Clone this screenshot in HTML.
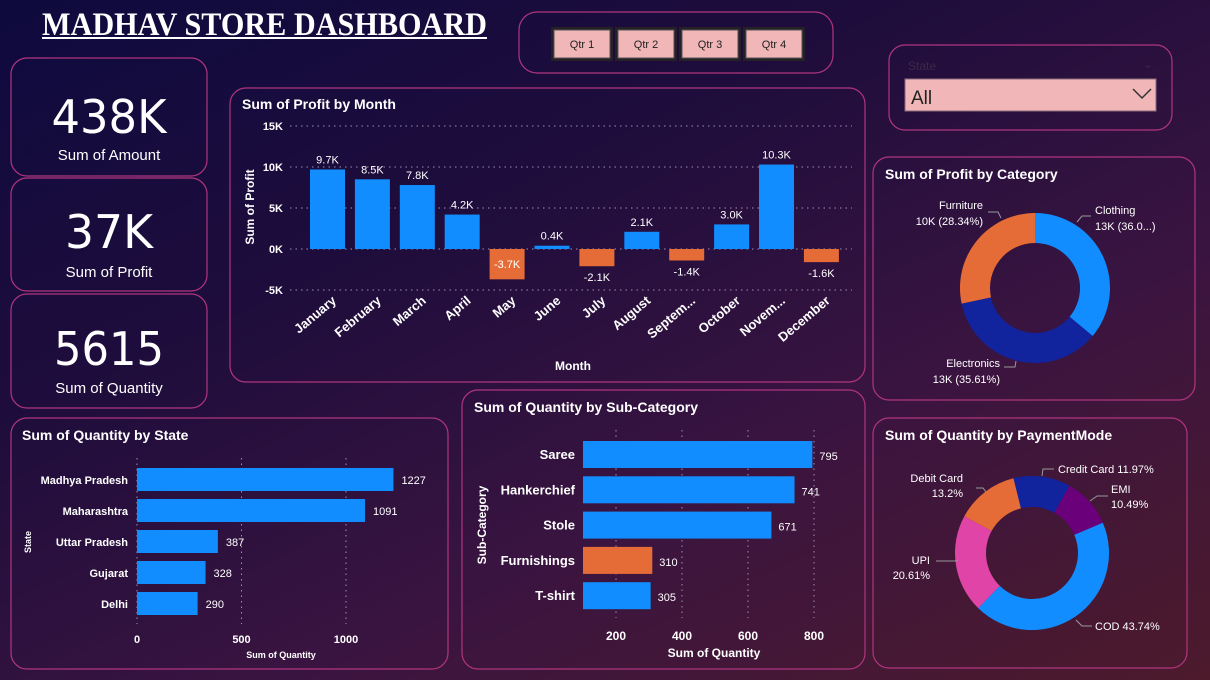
<!DOCTYPE html>
<html><head><meta charset="utf-8"><style>
html,body{margin:0;padding:0;width:1210px;height:680px;overflow:hidden}
body{background:linear-gradient(155deg,#0e0a3e 0%,#1f0d3c 35%,#3a1440 65%,#4d1a2c 100%);font-family:"Liberation Sans",sans-serif}
svg{display:block}
text{font-family:"Liberation Sans",sans-serif;fill:#fff}
.p{fill:none;stroke:#b0357f;stroke-width:1.2}
</style></head><body>
<svg id="s" width="1210" height="680" viewBox="0 0 1210 680">
<g>
<text x="42" y="35" style="font-family:'Liberation Serif',serif;font-weight:bold;font-size:33px" textLength="445" lengthAdjust="spacingAndGlyphs">MADHAV STORE DASHBOARD</text>
<rect x="42" y="37" width="445" height="2" fill="#fff"/>
</g>
<g>
<rect class="p" x="519" y="12" width="314" height="61" rx="18"/>
</g>
<g>
<rect class="p" x="889" y="45" width="283" height="85" rx="16"/>
<text x="908" y="70" font-size="12" style="fill:#3a2a48">State</text>
<text x="1143" y="68" font-size="12" style="fill:#3a2a48">⌄</text>
<rect x="905" y="79" width="251" height="32" fill="#f0b6b8" stroke="#8a6a7a"/>
<text x="911" y="104" font-size="19" style="fill:#222">All</text>
<polyline points="1133,89 1142,98 1151,89" fill="none" stroke="#333" stroke-width="1.5"/>
</g>
<g>
<rect class="p" x="11" y="58" width="196" height="118" rx="16"/>
<text x="109" y="133" text-anchor="middle" style="font-family:'DejaVu Sans',sans-serif;font-size:46px" textLength="115" lengthAdjust="spacingAndGlyphs">438K</text>
<text x="109" y="160" text-anchor="middle" font-size="15">Sum of Amount</text>
</g>
<g>
<rect class="p" x="11" y="178" width="196" height="113" rx="16"/>
<text x="109" y="248" text-anchor="middle" style="font-family:'DejaVu Sans',sans-serif;font-size:46px" textLength="88" lengthAdjust="spacingAndGlyphs">37K</text>
<text x="109" y="277" text-anchor="middle" font-size="15">Sum of Profit</text>
</g>
<g>
<rect class="p" x="11" y="294" width="196" height="114" rx="16"/>
<text x="109" y="365" text-anchor="middle" style="font-family:'DejaVu Sans',sans-serif;font-size:46px" textLength="110" lengthAdjust="spacingAndGlyphs">5615</text>
<text x="109" y="393" text-anchor="middle" font-size="15">Sum of Quantity</text>
</g>
<rect class="p" x="230" y="88" width="635" height="294" rx="16"/>
<text x="242" y="109" font-size="14" font-weight="bold">Sum of Profit by Month</text>
<rect class="p" x="873" y="157" width="322" height="243" rx="16"/>
<text x="885" y="179" font-size="14" font-weight="bold">Sum of Profit by Category</text>
<rect class="p" x="873" y="418" width="314" height="250" rx="16"/>
<text x="885" y="440" font-size="14" font-weight="bold">Sum of Quantity by PaymentMode</text>
<rect class="p" x="11" y="418" width="437" height="251" rx="16"/>
<text x="22" y="440" font-size="14" font-weight="bold">Sum of Quantity by State</text>
<rect class="p" x="462" y="390" width="403" height="279" rx="16"/>
<text x="474" y="412" font-size="14" font-weight="bold">Sum of Quantity by Sub-Category</text>
</svg>
<script>
const quarters=['Qtr 1','Qtr 2','Qtr 3','Qtr 4'];
const months=['January','February','March','April','May','June','July','August','Septem...','October','Novem...','December'];
const profit=[9.7,8.5,7.8,4.2,-3.7,0.4,-2.1,2.1,-1.4,3.0,10.3,-1.6];
const profitTicks=[15,10,5,0,-5];
const categories=['Clothing','Electronics','Furniture'];
const categoryPct=[36.05,35.61,28.34];
const categoryLabels=['Clothing|13K (36.0...)','Electronics|13K (35.61%)','Furniture|10K (28.34%)'];
const payModes=['Credit Card','EMI','COD','UPI','Debit Card'];
const payPct=[11.97,10.49,43.74,20.61,13.2];
const states=['Madhya Pradesh','Maharashtra','Uttar Pradesh','Gujarat','Delhi'];
const stateQty=[1227,1091,387,328,290];
const stateTicks=[0,500,1000];
const subcats=['Saree','Hankerchief','Stole','Furnishings','T-shirt'];
const subcatQty=[795,741,671,310,305];
const subcatTicks=[200,400,600,800];

const S=document.getElementById('s');const NS='http://www.w3.org/2000/svg';
function mk(t,a,txt,p){const e=document.createElementNS(NS,t);for(const k in a)e.setAttribute(k,a[k]);if(txt!=null)e.textContent=txt;(p||S).appendChild(e);return e;}
const BLUE='#118dff',ORANGE='#e66c37';

quarters.forEach((q,i)=>{const x=554+i*64;
 const b=mk('rect',{x:x-3,y:27,width:62,height:34,fill:'#252025'});
 
 const r=mk('rect',{x:x,y:30,width:56,height:28,fill:'#f0b6b8',stroke:'#555'});
 
 const t=mk('text',{x:x+28,y:48,'text-anchor':'middle','font-size':11,style:'fill:#222'},q);
 
});

const y0=249,kpx=8.2,yM=v=>y0-v*kpx;
const xM=i=>310+i*44.9;
profitTicks.forEach(v=>{const g=mk('line',{x1:290,x2:852,y1:yM(v),y2:yM(v),stroke:'#9a90b0','stroke-dasharray':'1.5 4','stroke-width':1});
 
 const t=mk('text',{x:283,y:yM(v)+4,'text-anchor':'end','font-size':11,'font-weight':'bold'},v+'K');
 });
profit.forEach((v,i)=>{const x=xM(i),top=v>=0?yM(v):y0,h=Math.abs(v)*kpx;
 const r=mk('rect',{x:x,y:top,width:35,height:h,fill:v>=0?BLUE:ORANGE});
 
 let ly;if(v>=0)ly=top-6;else if(v<-3)ly=y0+h/2+4;else ly=y0+h+15;
 const t=mk('text',{x:x+17.5,y:ly,'text-anchor':'middle','font-size':11},v.toFixed(1)+'K');
 
 const m=mk('text',{x:0,y:0,'text-anchor':'end','font-size':13,'font-weight':'bold',transform:`translate(${x+27},${302}) rotate(-40)`},months[i]);
 });
let e=mk('text',{x:573,y:370,'text-anchor':'middle','font-size':12,'font-weight':'bold'},'Month');

e=mk('text',{x:0,y:0,'text-anchor':'middle','font-size':12,'font-weight':'bold',transform:'translate(254,207) rotate(-90)'},'Sum of Profit');


function arc(cx,cy,R,r,a0,a1){const p=(a,rr)=>[cx+rr*Math.sin(a),cy-rr*Math.cos(a)];const l=a1-a0>Math.PI?1:0;
 const [x1,y1]=p(a0,R),[x2,y2]=p(a1,R),[x3,y3]=p(a1,r),[x4,y4]=p(a0,r);
 return `M${x1},${y1}A${R},${R} 0 ${l} 1 ${x2},${y2}L${x3},${y3}A${r},${r} 0 ${l} 0 ${x4},${y4}Z`;}
const catColors=[BLUE,'#12239e',ORANGE];
let a=0;categoryPct.forEach((p,i)=>{const a1=a+p/100*2*Math.PI;
 const s=mk('path',{d:arc(1035,288,75,45,a,a1),fill:catColors[i]});
 a=a1;});
const catLab=[[1095,214,'start',[[1077,222],[1082,216],[1091,216]]],[1000,367,'end',[[1016,361],[1015,367],[1004,367]]],[983,209,'end',[[1001,218],[998,212],[988,212]]]];
categoryLabels.forEach((s,i)=>{const [x,y,an,pts]=catLab[i];const [l1,l2]=s.split('|');
 mk('polyline',{points:pts.map(p=>p.join(',')).join(' '),fill:'none',stroke:'#999','stroke-width':1});
 const t=mk('text',{x:x,y:y,'text-anchor':an,'font-size':11},null);
 
 mk('tspan',{x:x,dy:0},l1,t);mk('tspan',{x:x,dy:16},l2,t);});
const payColors=['#12239e','#6b007b',BLUE,'#e044a7',ORANGE];
a=-14*Math.PI/180;payPct.forEach((p,i)=>{const a1=a+p/100*2*Math.PI;
 const s=mk('path',{d:arc(1032,553,77,46,a,a1),fill:payColors[i]});
 a=a1;});
const payLab=[[1058,473,'start',['Credit Card '+payPct[0]+'%']],[1111,493,'start',['EMI',payPct[1]+'%']],[1095,630,'start',['COD '+payPct[2]+'%']],[930,564,'end',['UPI',payPct[3]+'%']],[963,482,'end',['Debit Card',payPct[4]+'%']]];
payLab.forEach(([x,y,an,ls])=>{const t=mk('text',{x:x,y:y,'text-anchor':an,'font-size':11},null);
 
 ls.forEach((l,j)=>mk('tspan',{x:x,dy:j?15:0},l,t));});
[[[1042,476],[1043,469],[1054,469]],[[1090,501],[1097,496],[1108,496]],[[1076,620],[1082,626],[1092,626]],[[936,561],[955,561],[958,560]],[[976,488],[983,488],[986,492]]].forEach(pts=>mk('polyline',{points:pts.map(p=>p.join(',')).join(' '),fill:'none',stroke:'#999','stroke-width':1}));

const xS=v=>137+v*0.209;
stateTicks.forEach(v=>{mk('line',{x1:xS(v),x2:xS(v),y1:458,y2:624,stroke:'#9a90b0','stroke-dasharray':'1.5 4'});
 const t=mk('text',{x:xS(v),y:643,'text-anchor':'middle','font-size':11,'font-weight':'bold'},v);
 });
states.forEach((s,i)=>{const y=468+i*31;
 const r=mk('rect',{x:137,y:y,width:xS(stateQty[i])-137,height:23,fill:BLUE});
 
 const t=mk('text',{x:xS(stateQty[i])+8,y:y+16,'font-size':11},stateQty[i]);
 
 const c=mk('text',{x:128,y:y+16,'text-anchor':'end','font-size':11,'font-weight':'bold'},s);
 });
e=mk('text',{x:281,y:658,'text-anchor':'middle','font-size':9,'font-weight':'bold'},'Sum of Quantity');

e=mk('text',{x:0,y:0,'text-anchor':'middle','font-size':9,'font-weight':'bold',transform:'translate(31,542) rotate(-90)'},'State');


const xC=v=>583+(v-100)*0.33;
subcatTicks.forEach(v=>{mk('line',{x1:xC(v),x2:xC(v),y1:430,y2:618,stroke:'#9a90b0','stroke-dasharray':'1.5 4'});
 const t=mk('text',{x:xC(v),y:640,'text-anchor':'middle','font-size':12,'font-weight':'bold'},v);
 });
subcats.forEach((s,i)=>{const y=441+i*35.3;
 const r=mk('rect',{x:583,y:y,width:xC(subcatQty[i])-583,height:27,fill:s==='Furnishings'?ORANGE:BLUE});
 
 const t=mk('text',{x:xC(subcatQty[i])+7,y:y+19,'font-size':11},subcatQty[i]);
 
 const c=mk('text',{x:575,y:y+18,'text-anchor':'end','font-size':13,'font-weight':'bold'},s);
 });
e=mk('text',{x:714,y:657,'text-anchor':'middle','font-size':12,'font-weight':'bold'},'Sum of Quantity');

e=mk('text',{x:0,y:0,'text-anchor':'middle','font-size':12,'font-weight':'bold',transform:'translate(486,525) rotate(-90)'},'Sub-Category');

</script>
</body></html>
